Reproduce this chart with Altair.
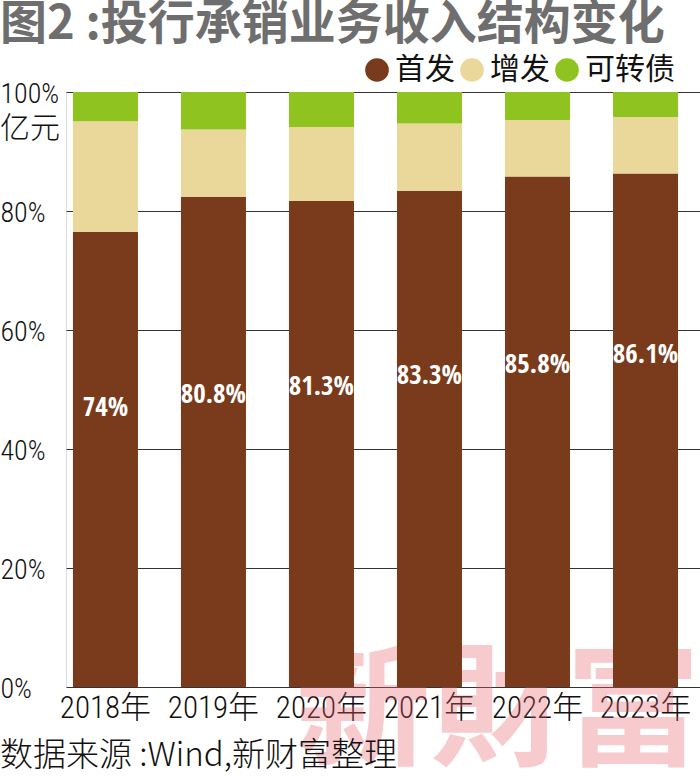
import altair as alt
import pandas as pd

years = ["2018年", "2019年", "2020年", "2021年", "2022年", "2023年"]
series = ["首发", "增发", "可转债"]
ipo = [76.5, 82.4, 81.7, 83.4, 85.8, 86.3]
seo = [18.6, 11.3, 12.4, 11.3, 9.5, 9.5]
cb = [4.9, 6.3, 5.9, 5.3, 4.7, 4.2]
ipo_labels = ["74%", "80.8%", "81.3%", "83.3%", "85.8%", "86.1%"]
label_at = [46.9, 49.1, 50.4, 52.3, 54.1, 55.8]
colors = ["#7a3b1c", "#ead89a", "#8fc31f"]

title_text = "图2 :投行承销业务收入结构变化"
unit_text = "亿元"
source_text = "数据来源 :Wind,新财富整理"
watermark_text = "新財富"

NARROW = "'Roboto Condensed', 'Noto Sans CJK SC', sans-serif"
BARFONT = "'Open Sans Condensed', 'Roboto Condensed', sans-serif"
CJK = "'Noto Sans CJK SC', sans-serif"

rows = []
for i, y in enumerate(years):
    for k, (name, vals) in enumerate(zip(series, [ipo, seo, cb])):
        rows.append({"year": y, "series": name, "k": k, "value": vals[i]})
df = pd.DataFrame(rows)
lab = pd.DataFrame({"year": years, "label": ipo_labels, "pos": label_at})

W, H = 634, 595

xenc = alt.X(
    "year:N",
    sort=years,
    scale=alt.Scale(paddingInner=0.398, paddingOuter=0.134, align=0.24),
    axis=alt.Axis(
        title=None, labelAngle=0, domain=False, ticks=False, labelPadding=6,
        labelFontSize=31, labelFont=NARROW, labelFontWeight=300, labelColor="#111111",
    ),
)

bars = alt.Chart(df).mark_bar().encode(
    x=xenc,
    y=alt.Y(
        "value:Q",
        stack="zero",
        scale=alt.Scale(domain=[0, 100], nice=False),
        axis=alt.Axis(
            title=None, values=[0, 20, 40, 60, 80, 100], labelExpr="datum.value + '%'",
            domain=False, ticks=False, grid=True, gridColor="#333333", gridWidth=1.2,
            gridOpacity=1, labelAlign="left", labelPadding=66, labelFontSize=28,
            labelFont=NARROW, labelFontWeight=300, labelColor="#111111",
            labelBaseline="middle", labelOffset=2,
        ),
    ),
    color=alt.Color(
        "series:N",
        scale=alt.Scale(domain=series, range=colors),
        legend=alt.Legend(
            title=None, orient="none", direction="horizontal", legendX=296, legendY=-37,
            symbolType="circle", symbolSize=560, symbolStrokeWidth=0, labelFontSize=30,
            labelFont=CJK, labelColor="#111111", columnPadding=2, labelOffset=3,
            padding=0, symbolOpacity=1,
        ),
    ),
    order=alt.Order("k:Q", sort="ascending"),
)

labels = alt.Chart(lab).mark_text(
    color="white", font=BARFONT, fontSize=27, fontWeight="bold", baseline="middle"
).encode(x=alt.X("year:N", sort=years), y=alt.Y("pos:Q"), text="label:N")

def txt(s, x, y, **kw):
    return alt.Chart(pd.DataFrame({"t": [s]})).mark_text(**kw).encode(
        text="t:N", x=alt.value(x), y=alt.value(y)
    )

title = txt(title_text, -66, -67, align="left", baseline="middle", font=CJK,
            fontSize=47, fontWeight="bold", color="#6e6e6e")
unit = txt(unit_text, -66, 37, align="left", baseline="middle", font=CJK,
           fontSize=30, fontWeight=300, color="#111111")
source = txt(source_text, -66, 664, align="left", baseline="middle", font=CJK,
             fontSize=33, fontWeight=300, color="#111111")
watermark = txt(watermark_text, 432, 622, align="center", baseline="middle", font=CJK,
                fontSize=135, fontWeight="bold", color="#e8616b", opacity=0.33)

chart = alt.layer(watermark, bars, labels, title, unit, source).resolve_scale(
    x="shared", y="shared"
).properties(
    width=W, height=H,
    autosize=alt.AutoSizeParams(type="none"),
    padding={"left": 66, "top": 92, "right": 0, "bottom": 89},
).configure_view(stroke=None).configure(background="white")

chart.save("out.html", embed_options={"renderer": "svg", "actions": False})
